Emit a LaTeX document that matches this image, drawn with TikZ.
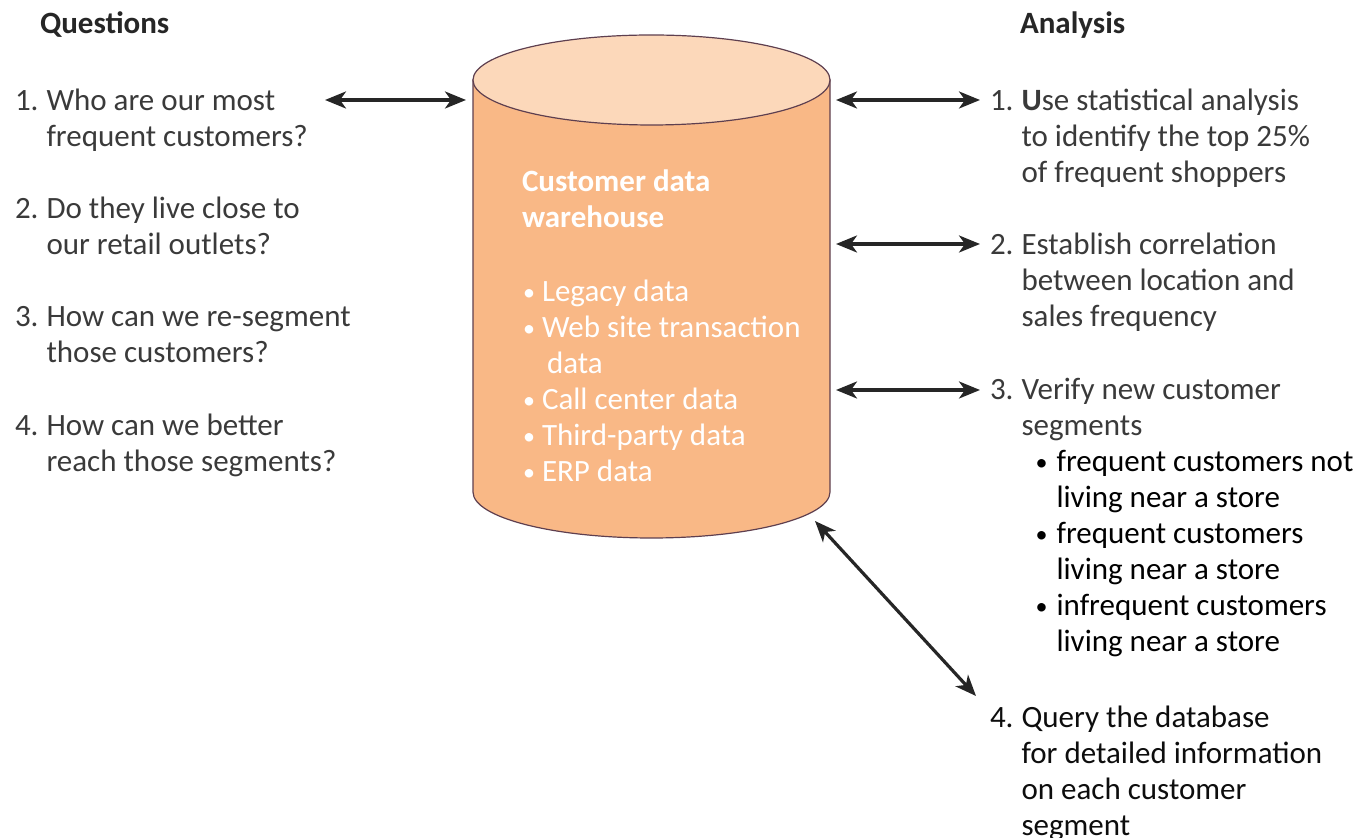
\documentclass[tikz,border=0pt]{standalone}
\usepackage{fontspec}
\setmainfont{Carlito}
\usetikzlibrary{arrows.meta}
\definecolor{sidefill}{HTML}{F9B886}
\definecolor{topfill}{HTML}{FCD8BA}
\definecolor{rimline}{HTML}{5E3F4F}
\definecolor{bodytext}{HTML}{3A3A3A}
\newcommand{\qitem}[2]{\begin{tabular}[t]{@{}l@{\hspace{4pt}}l@{}}#1 & #2\end{tabular}}
\newcommand{\smallbul}{\raisebox{0.8pt}{\fontsize{12}{12}\selectfont\textbullet}}
\newcommand{\subbul}{\hspace{7pt}\makebox[10.5pt][l]{\smallbul}}
\newcommand{\subcont}{\hspace{17.5pt}}
\newcommand{\dwbul}{\makebox[10pt][l]{\hspace{0.5pt}\smallbul}}

\begin{document}
\begin{tikzpicture}
  [x=0.5pt, y=-0.5pt, every node/.style={inner sep=0pt, outer sep=0pt, anchor=base west, text=bodytext, font=\fontsize{15.5}{18}\selectfont}]
  \tikzset{head/.style={font=\fontsize{15.5}{18}\selectfont\bfseries, text=black!85}}
  \tikzset{dark/.style={text=black!95}}
  \tikzset{inside/.style={text=white}}
  \tikzset{twoway/.style={draw=black!85, line width=1.6pt, {Stealth[length=10.5pt,width=8.5pt,inset=3pt]}-{Stealth[length=10.5pt,width=8.5pt,inset=3pt]}}}

  \useasboundingbox (0,0) rectangle (1355,838);
  \clip (0,0) rectangle (1355,838);

  % warehouse cylinder
  \draw[rimline, fill=sidefill, line width=0.6pt] (473,80) -- (473,492)
    arc[start angle=180, end angle=0, x radius=178.5, y radius=46] -- (830,80) -- cycle;
  \draw[rimline, fill=topfill, line width=0.6pt] (651.5,80) ellipse [x radius=178.5, y radius=45];
  \node[inside] (dw) at (522,192) {\begin{tabular}[t]{@{}l@{}}
    \textbf{Customer data}\\
    \textbf{warehouse}\\[19pt]
    \dwbul Legacy data\\
    \dwbul Web site transaction\\
    \hspace{12.5pt}data\\
    \dwbul Call center data\\
    \dwbul Third-party data\\
    \dwbul ERP data
  \end{tabular}};

  % Questions
  \node[head] (qhead) at (40,34) {Questions};
  \node (q1) at (15,111) {\qitem{1.}{Who are our most\\ & frequent customers?}};
  \node (q2) at (15,219) {\qitem{2.}{Do they live close to\\ & our retail outlets?}};
  \node (q3) at (15,327) {\qitem{3.}{How can we re-segment\\ & those customers?}};
  \node (q4) at (15,436) {\qitem{4.}{How can we better\\ & reach those segments?}};

  % Analysis
  \node[head] (ahead) at (1020,34) {Analysis};
  \node (a1) at (990,111) {\qitem{1.}{\textbf{U}se statistical analysis\\ & to identify the top 25\%\\ & of frequent shoppers}};
  \node (a2) at (990,255) {\qitem{2.}{Establish correlation\\ & between location and\\ & sales frequency}};
  \node (a3) at (990,400) {\qitem{3.}{Verify new customer\\ & segments\\
    & \textcolor{black}{\subbul frequent customers not}\\ & \textcolor{black}{\subcont living near a store}\\
    & \textcolor{black}{\subbul frequent customers}\\ & \textcolor{black}{\subcont living near a store}\\
    & \textcolor{black}{\subbul infrequent customers}\\ & \textcolor{black}{\subcont living near a store}}};
  \node[dark] (a4) at (990,728) {\qitem{4.}{Query the database\\ & for detailed information\\ & on each customer\\ & segment}};

  % arrow ends
  \coordinate (q1tip) at (325,100);
  \coordinate (dwW) at (466,100);
  \coordinate (dwE1) at (836,100);
  \coordinate (dwE2) at (836,244);
  \coordinate (dwE3) at (836,390);
  \coordinate (dwSE) at (815,521);
  \coordinate (a1tip) at (980,100);
  \coordinate (a2tip) at (980,244);
  \coordinate (a3tip) at (980,390);
  \coordinate (a4tip) at (976,696);

  \draw[twoway] (q1tip) -- (dwW);
  \draw[twoway] (dwE1) -- (a1tip);
  \draw[twoway] (dwE2) -- (a2tip);
  \draw[twoway] (dwE3) -- (a3tip);
  \draw[twoway] (dwSE) -- (a4tip);
\end{tikzpicture}
\end{document}
